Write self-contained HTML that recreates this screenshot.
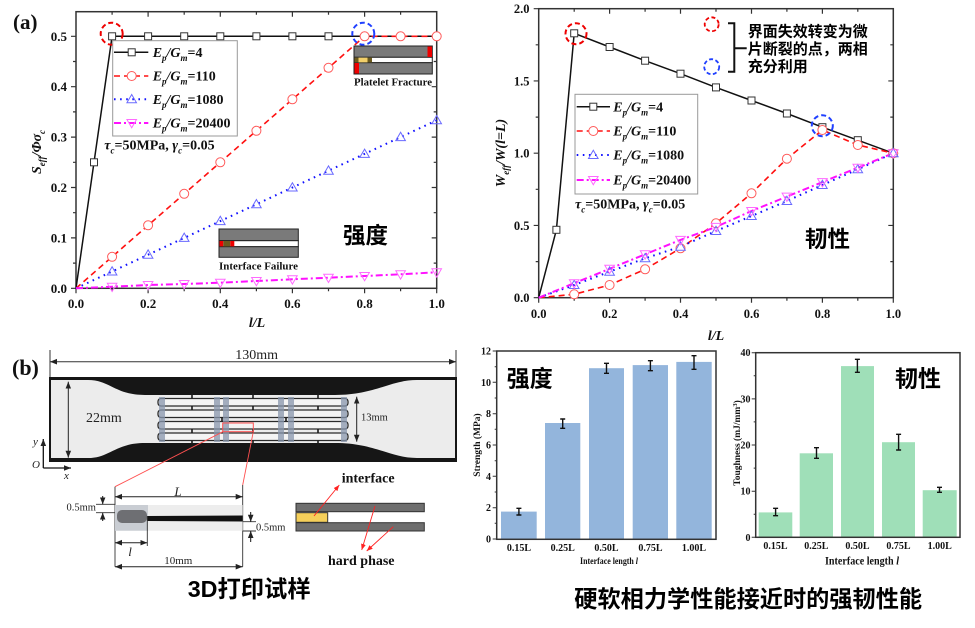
<!DOCTYPE html>
<html><head><meta charset="utf-8"><style>
html,body{margin:0;padding:0;background:#fff;}
svg{display:block;}
.n{font-family:"Liberation Serif",serif;font-weight:bold;fill:#111;}
.s{font-family:"Liberation Serif",serif;fill:#222;}
.cjk{font-family:"Liberation Sans","Noto Sans CJK SC",sans-serif;font-weight:bold;fill:#000;}
</style></head><body>
<svg width="975" height="628" viewBox="0 0 975 628" xmlns="http://www.w3.org/2000/svg">
<defs>
<g id="sq"><rect x="-3.5" y="-3.5" width="7" height="7" fill="#fff" stroke="#333" stroke-width="1"/></g>
<g id="ci"><circle r="4.5" fill="#fff" stroke="#ff5a5a" stroke-width="1"/></g>
<g id="tu"><polygon points="0,-4.8 4.8,3.5 -4.8,3.5" fill="none" stroke="#6a6aff" stroke-width="1"/></g>
<g id="td"><polygon points="0,4.8 4.8,-3.5 -4.8,-3.5" fill="none" stroke="#ff6aff" stroke-width="1"/></g>
<marker id="ah" viewBox="0 0 10 10" refX="10" refY="5" markerWidth="7" markerHeight="7" markerUnits="userSpaceOnUse" orient="auto-start-reverse"><path d="M0,1 L10,5 L0,9 z" fill="#222"/></marker>
<marker id="ar" viewBox="0 0 10 10" refX="10" refY="5" markerWidth="6" markerHeight="6" markerUnits="userSpaceOnUse" orient="auto"><path d="M0,1 L10,5 L0,9 z" fill="#f22"/></marker>
</defs>

<!-- ================= TOP LEFT CHART ================= -->
<text class="n" x="13" y="29" font-size="21">(a)</text>
<rect x="76" y="11.7" width="360.7" height="276.6" fill="none" stroke="#333" stroke-width="1.5"/>
<path stroke="#333" stroke-width="1.2" fill="none" d="M71,288.3H76M71,237.9H76M71,187.5H76M71,137.1H76M71,86.7H76M71,36.3H76M73,263.1H76M73,212.7H76M73,162.3H76M73,111.9H76M73,61.5H76
M431.7,237.9H436.7M431.7,187.5H436.7M431.7,137.1H436.7M431.7,86.7H436.7M431.7,36.3H436.7M433.7,263.1H436.7M433.7,212.7H436.7M433.7,162.3H436.7M433.7,111.9H436.7M433.7,61.5H436.7
M76,288.3V293.3M148.1,288.3V293.3M220.3,288.3V293.3M292.4,288.3V293.3M364.6,288.3V293.3M436.7,288.3V293.3M112.1,288.3V291.3M184.2,288.3V291.3M256.4,288.3V291.3M328.5,288.3V291.3M400.6,288.3V291.3
M148.1,11.7V16.7M220.3,11.7V16.7M292.4,11.7V16.7M364.6,11.7V16.7M112.1,11.7V14.7M184.2,11.7V14.7M256.4,11.7V14.7M328.5,11.7V14.7M400.6,11.7V14.7"/>
<g class="n" font-size="13" text-anchor="middle">
<text x="76" y="308">0.0</text><text x="148.1" y="308">0.2</text><text x="220.3" y="308">0.4</text><text x="292.4" y="308">0.6</text><text x="364.6" y="308">0.8</text><text x="436.7" y="308">1.0</text>
</g>
<g class="n" font-size="13" text-anchor="end">
<text x="67" y="292.8">0.0</text><text x="67" y="242.4">0.1</text><text x="67" y="192">0.2</text><text x="67" y="141.6">0.3</text><text x="67" y="91.2">0.4</text><text x="67" y="40.8">0.5</text>
</g>
<text class="n" font-size="14" font-style="italic" transform="translate(41,152) rotate(-90)" text-anchor="middle">S<tspan font-size="9" dy="4">eff</tspan><tspan dy="-4">/Φσ</tspan><tspan font-size="9" dy="4">c</tspan></text>
<text class="n" font-size="14" font-style="italic" x="257" y="327" text-anchor="middle">l/L</text>

<!-- insets -->
<g stroke="#222" stroke-width="1">
<rect x="354" y="46" width="78.3" height="11.3" fill="#7a7a7a"/>
<rect x="354" y="57.3" width="78.3" height="5.4" fill="#fff"/>
<rect x="354" y="62.7" width="78.3" height="11.3" fill="#7a7a7a"/>
<rect x="427.5" y="46.5" width="4.5" height="10.5" fill="#e00" stroke="none"/>
<rect x="354.5" y="63" width="4.5" height="10.5" fill="#e00" stroke="none"/>
<rect x="354.5" y="57.6" width="4" height="4.8" fill="#6b5a1e" stroke="none"/>
<rect x="358.5" y="57.6" width="9" height="4.8" fill="#f2cf6a" stroke="none"/>
<rect x="367.5" y="57.6" width="4.5" height="4.8" fill="#6b5a1e" stroke="none"/>
<rect x="219" y="229" width="79.3" height="11.7" fill="#7a7a7a"/>
<rect x="219" y="240.7" width="79.3" height="6" fill="#fff"/>
<rect x="219" y="246.7" width="79.3" height="10.6" fill="#7a7a7a"/>
<rect x="219.5" y="241" width="3.8" height="5.4" fill="#e00" stroke="none"/>
<rect x="223.3" y="241" width="7" height="5.4" fill="#6b5a1e" stroke="none"/>
<rect x="230.3" y="241" width="4" height="5.4" fill="#e00" stroke="none"/>
</g>
<text class="n" font-size="10.5" x="354" y="85.5" textLength="78" lengthAdjust="spacingAndGlyphs">Platelet Fracture</text>
<text class="n" font-size="10.5" x="219" y="269.5" textLength="79" lengthAdjust="spacingAndGlyphs">Interface Failure</text>
<text class="cjk" font-size="22.5" x="343" y="243.5">强度</text>

<!-- series -->
<path d="M76,288.3 L94,162.3 L112.1,36.3 L436.7,36.3" fill="none" stroke="#111" stroke-width="1.5"/>
<path d="M76,288.3 L364.6,36.3 L436.7,36.3" fill="none" stroke="#ff1010" stroke-width="1.6" stroke-dasharray="6 4"/>
<path d="M76,288.3 L436.7,120.3" fill="none" stroke="#1010ff" stroke-width="2" stroke-dasharray="1.6 4.5"/>
<path d="M76,288.3 L112.1,286.7 L148.1,285 L184.2,284 L220.3,282.7 L256.4,281 L292.4,279.3 L328.5,277.7 L364.6,276 L400.6,274.3 L436.7,272.3" fill="none" stroke="#ff10ff" stroke-width="2" stroke-dasharray="7 3 2 3"/>
<g>
<use href="#sq" x="94" y="162.3"/><use href="#sq" x="112.1" y="36.3"/><use href="#sq" x="148.1" y="36.3"/><use href="#sq" x="184.2" y="36.3"/><use href="#sq" x="220.3" y="36.3"/><use href="#sq" x="256.4" y="36.3"/><use href="#sq" x="292.4" y="36.3"/><use href="#sq" x="328.5" y="36.3"/>
<use href="#ci" x="112.1" y="256.8"/><use href="#ci" x="148.1" y="225.3"/><use href="#ci" x="184.2" y="193.8"/><use href="#ci" x="220.3" y="162.3"/><use href="#ci" x="256.4" y="130.8"/><use href="#ci" x="292.4" y="99.3"/><use href="#ci" x="328.5" y="67.8"/><use href="#ci" x="364.6" y="36.3"/><use href="#ci" x="400.6" y="36.3"/><use href="#ci" x="436.7" y="36.3"/>
<use href="#tu" x="112.1" y="271.5"/><use href="#tu" x="148.1" y="254.7"/><use href="#tu" x="184.2" y="237.9"/><use href="#tu" x="220.3" y="221.1"/><use href="#tu" x="256.4" y="204.3"/><use href="#tu" x="292.4" y="187.5"/><use href="#tu" x="328.5" y="170.7"/><use href="#tu" x="364.6" y="153.9"/><use href="#tu" x="400.6" y="137.1"/><use href="#tu" x="436.7" y="120.3"/>
<use href="#td" x="112.1" y="286.7"/><use href="#td" x="148.1" y="285"/><use href="#td" x="184.2" y="284"/><use href="#td" x="220.3" y="282.7"/><use href="#td" x="256.4" y="281"/><use href="#td" x="292.4" y="279.3"/><use href="#td" x="328.5" y="277.7"/><use href="#td" x="364.6" y="276"/><use href="#td" x="400.6" y="274.3"/><use href="#td" x="436.7" y="272.3"/>
</g>
<circle cx="111.7" cy="33.7" r="11" fill="none" stroke="#e00" stroke-width="2" stroke-dasharray="5 3"/>
<circle cx="363.3" cy="33.7" r="11" fill="none" stroke="#2040ff" stroke-width="2" stroke-dasharray="5 3"/>

<!-- legend left -->
<rect x="112.7" y="40.7" width="124.6" height="95.3" fill="#fff" stroke="#999" stroke-width="1"/>
<line x1="114" y1="52.3" x2="148.3" y2="52.3" stroke="#111" stroke-width="1.5"/><use href="#sq" x="131.7" y="52.3"/>
<line x1="114" y1="76" x2="148.3" y2="76" stroke="#ff1010" stroke-width="1.6" stroke-dasharray="6 4"/><use href="#ci" x="131.7" y="76"/>
<line x1="114" y1="99.3" x2="148.3" y2="99.3" stroke="#1010ff" stroke-width="2" stroke-dasharray="1.6 4.5"/><use href="#tu" x="131.7" y="99.3"/>
<line x1="114" y1="123" x2="148.3" y2="123" stroke="#ff10ff" stroke-width="2" stroke-dasharray="7 3 2 3"/><use href="#td" x="131.7" y="123"/>
<g class="n" font-size="14" font-style="italic">
<text x="152.7" y="57">E<tspan font-size="9" dy="4">p</tspan><tspan dy="-4">/G</tspan><tspan font-size="9" dy="4">m</tspan><tspan dy="-4" font-style="normal">=4</tspan></text>
<text x="152.7" y="80.7">E<tspan font-size="9" dy="4">p</tspan><tspan dy="-4">/G</tspan><tspan font-size="9" dy="4">m</tspan><tspan dy="-4" font-style="normal">=110</tspan></text>
<text x="152.7" y="104">E<tspan font-size="9" dy="4">p</tspan><tspan dy="-4">/G</tspan><tspan font-size="9" dy="4">m</tspan><tspan dy="-4" font-style="normal">=1080</tspan></text>
<text x="152.7" y="127.7">E<tspan font-size="9" dy="4">p</tspan><tspan dy="-4">/G</tspan><tspan font-size="9" dy="4">m</tspan><tspan dy="-4" font-style="normal">=20400</tspan></text>
<text x="104.3" y="149.5">τ<tspan font-size="9" dy="4">c</tspan><tspan dy="-4" font-style="normal">=50MPa, </tspan>γ<tspan font-size="9" dy="4">c</tspan><tspan dy="-4" font-style="normal">=0.05</tspan></text>
</g>

<!-- ================= TOP RIGHT CHART ================= -->
<rect x="538.7" y="8.7" width="354.6" height="289" fill="none" stroke="#333" stroke-width="1.5"/>
<path stroke="#333" stroke-width="1.2" fill="none" d="M533.7,297.7H538.7M533.7,225.45H538.7M533.7,153.2H538.7M533.7,80.95H538.7M533.7,8.7H538.7M535.7,261.6H538.7M535.7,189.3H538.7M535.7,117.1H538.7M535.7,44.8H538.7
M888.3,225.45H893.3M888.3,153.2H893.3M888.3,80.95H893.3M890.3,261.6H893.3M890.3,189.3H893.3M890.3,117.1H893.3M890.3,44.8H893.3
M538.7,297.7V302.7M609.6,297.7V302.7M680.5,297.7V302.7M751.5,297.7V302.7M822.4,297.7V302.7M893.3,297.7V302.7M574.2,297.7V300.7M645.1,297.7V300.7M716,297.7V300.7M786.9,297.7V300.7M857.8,297.7V300.7
M609.6,8.7V13.7M680.5,8.7V13.7M751.5,8.7V13.7M822.4,8.7V13.7M574.2,8.7V11.7M645.1,8.7V11.7M716,8.7V11.7M786.9,8.7V11.7M857.8,8.7V11.7"/>
<g class="n" font-size="12.5" text-anchor="middle">
<text x="538.7" y="318">0.0</text><text x="609.6" y="318">0.2</text><text x="680.5" y="318">0.4</text><text x="751.5" y="318">0.6</text><text x="822.4" y="318">0.8</text><text x="893.3" y="318">1.0</text>
</g>
<g class="n" font-size="12.5" text-anchor="end">
<text x="529.5" y="302.2">0.0</text><text x="529.5" y="230">0.5</text><text x="529.5" y="157.7">1.0</text><text x="529.5" y="85.5">1.5</text><text x="529.5" y="13.2">2.0</text>
</g>
<text class="n" font-size="14" font-style="italic" transform="translate(505,153) rotate(-90)" text-anchor="middle">W<tspan font-size="9" dy="4">eff</tspan><tspan dy="-4">/W(l=L)</tspan></text>
<text class="n" font-size="14" font-style="italic" x="716" y="340" text-anchor="middle">l/L</text>

<path d="M538.7,297.7 L556.4,229.8 L574.2,33.3 L609.6,47 L645.1,60.7 L680.5,73.7 L716,87.4 L751.5,100.5 L786.9,113.5 L822.4,127.2 L857.8,140.2 L893.3,153.2" fill="none" stroke="#111" stroke-width="1.5"/>
<path d="M538.7,297.7 L574.2,294.3 L609.6,285 L645.1,269.3 L680.5,248.3 L716,223.3 L751.5,193.3 L786.9,158.7 L822.4,130 L857.8,145 L893.3,153.2" fill="none" stroke="#ff1010" stroke-width="1.6" stroke-dasharray="6 4"/>
<path d="M538.7,297.7 L574.2,285 L609.6,271.7 L645.1,258.3 L680.5,246.7 L716,231 L751.5,216 L786.9,201 L822.4,185 L857.8,169.3 L893.3,153.2" fill="none" stroke="#1010ff" stroke-width="2" stroke-dasharray="1.6 4.5"/>
<path d="M538.7,297.7 L574.2,283.2 L609.6,268.8 L645.1,254.3 L680.5,239.9 L716,226.9 L751.5,211 L786.9,196.6 L822.4,182.1 L857.8,167.7 L893.3,153.2" fill="none" stroke="#ff10ff" stroke-width="2" stroke-dasharray="7 3 2 3"/>
<g>
<use href="#sq" x="556.4" y="229.8"/><use href="#sq" x="574.2" y="33.3"/><use href="#sq" x="609.6" y="47"/><use href="#sq" x="645.1" y="60.7"/><use href="#sq" x="680.5" y="73.7"/><use href="#sq" x="716" y="87.4"/><use href="#sq" x="751.5" y="100.5"/><use href="#sq" x="786.9" y="113.5"/><use href="#sq" x="822.4" y="127.2"/><use href="#sq" x="857.8" y="140.2"/><use href="#sq" x="893.3" y="153.2"/>
<use href="#ci" x="574.2" y="294.3"/><use href="#ci" x="609.6" y="285"/><use href="#ci" x="645.1" y="269.3"/><use href="#ci" x="680.5" y="248.3"/><use href="#ci" x="716" y="223.3"/><use href="#ci" x="751.5" y="193.3"/><use href="#ci" x="786.9" y="158.7"/><use href="#ci" x="822.4" y="130"/><use href="#ci" x="857.8" y="145"/><use href="#ci" x="893.3" y="153.2"/>
<use href="#tu" x="574.2" y="285"/><use href="#tu" x="609.6" y="271.7"/><use href="#tu" x="645.1" y="258.3"/><use href="#tu" x="680.5" y="246.7"/><use href="#tu" x="716" y="231"/><use href="#tu" x="751.5" y="216"/><use href="#tu" x="786.9" y="201"/><use href="#tu" x="822.4" y="185"/><use href="#tu" x="857.8" y="169.3"/><use href="#tu" x="893.3" y="153.2"/>
<use href="#td" x="574.2" y="283.2"/><use href="#td" x="609.6" y="268.8"/><use href="#td" x="645.1" y="254.3"/><use href="#td" x="680.5" y="239.9"/><use href="#td" x="716" y="226.9"/><use href="#td" x="751.5" y="211"/><use href="#td" x="786.9" y="196.6"/><use href="#td" x="822.4" y="182.1"/><use href="#td" x="857.8" y="167.7"/><use href="#td" x="893.3" y="153.2"/>
</g>
<circle cx="576" cy="33.7" r="10.5" fill="none" stroke="#e00" stroke-width="2" stroke-dasharray="5 3"/>
<circle cx="822.3" cy="125.7" r="10.5" fill="none" stroke="#2040ff" stroke-width="2" stroke-dasharray="5 3"/>
<circle cx="711.7" cy="24.3" r="7" fill="none" stroke="#e00" stroke-width="1.8" stroke-dasharray="4 2.5"/>
<circle cx="711.7" cy="66.7" r="7.5" fill="none" stroke="#2040ff" stroke-width="1.8" stroke-dasharray="4 2.5"/>
<path d="M728,23.3 H734.3 V71.7 H728 M734.3,48.3 H746.7" fill="none" stroke="#111" stroke-width="2"/>
<g class="cjk" font-size="15">
<text x="747.7" y="36.7">界面失效转变为微</text>
<text x="747.7" y="54">片断裂的点，两相</text>
<text x="747.7" y="71.4">充分利用</text>
</g>
<text class="cjk" font-size="22.5" x="805" y="246.8">韧性</text>

<!-- legend right -->
<rect x="575" y="94.3" width="122.7" height="99.7" fill="#fff" stroke="#999" stroke-width="1"/>
<line x1="576.7" y1="106.7" x2="610" y2="106.7" stroke="#111" stroke-width="1.5"/><use href="#sq" x="593.3" y="106.7"/>
<line x1="576.7" y1="131" x2="610" y2="131" stroke="#ff1010" stroke-width="1.6" stroke-dasharray="6 4"/><use href="#ci" x="593.3" y="131"/>
<line x1="576.7" y1="155" x2="610" y2="155" stroke="#1010ff" stroke-width="2" stroke-dasharray="1.6 4.5"/><use href="#tu" x="593.3" y="155"/>
<line x1="576.7" y1="180" x2="610" y2="180" stroke="#ff10ff" stroke-width="2" stroke-dasharray="7 3 2 3"/><use href="#td" x="593.3" y="180"/>
<g class="n" font-size="14" font-style="italic">
<text x="613.3" y="111.4">E<tspan font-size="9" dy="4">p</tspan><tspan dy="-4">/G</tspan><tspan font-size="9" dy="4">m</tspan><tspan dy="-4" font-style="normal">=4</tspan></text>
<text x="613.3" y="135.7">E<tspan font-size="9" dy="4">p</tspan><tspan dy="-4">/G</tspan><tspan font-size="9" dy="4">m</tspan><tspan dy="-4" font-style="normal">=110</tspan></text>
<text x="613.3" y="159.7">E<tspan font-size="9" dy="4">p</tspan><tspan dy="-4">/G</tspan><tspan font-size="9" dy="4">m</tspan><tspan dy="-4" font-style="normal">=1080</tspan></text>
<text x="613.3" y="184.7">E<tspan font-size="9" dy="4">p</tspan><tspan dy="-4">/G</tspan><tspan font-size="9" dy="4">m</tspan><tspan dy="-4" font-style="normal">=20400</tspan></text>
<text x="575" y="208.5">τ<tspan font-size="9" dy="4">c</tspan><tspan dy="-4" font-style="normal">=50MPa, </tspan>γ<tspan font-size="9" dy="4">c</tspan><tspan dy="-4" font-style="normal">=0.05</tspan></text>
</g>

<!-- ================= BOTTOM LEFT SPECIMEN ================= -->
<text class="n" x="12" y="375" font-size="22">(b)</text>
<line x1="50" y1="350" x2="50" y2="377" stroke="#333" stroke-width="1"/>
<line x1="456" y1="350" x2="456" y2="377" stroke="#333" stroke-width="1"/>
<line x1="50" y1="361.7" x2="456" y2="361.7" stroke="#333" stroke-width="1" marker-start="url(#ah)" marker-end="url(#ah)"/>
<text class="s" x="256.7" y="359" font-size="14" text-anchor="middle">130mm</text>

<rect x="49" y="377" width="408" height="85" fill="#161616"/>
<path d="M51,380 L88,380 C110,380 115,395 145,395 L335,395 C375,395 390,380 417,380 L455,380 L455,458 L417,458 C390,458 375,443 335,443 L145,443 C115,443 110,458 88,458 L51,458 Z" fill="#ececec"/>
<!-- lattice -->
<g fill="#f4f4f4" stroke="#2a2a2a" stroke-width="1.3">
<rect x="158" y="398.5" width="190" height="7.5" rx="3"/>
<rect x="158" y="410" width="190" height="7.5" rx="3"/>
<rect x="158" y="421.5" width="190" height="7.5" rx="3"/>
<rect x="158" y="433" width="190" height="7.5" rx="3"/>
</g>
<path stroke="#1a1a1a" stroke-width="1.6" d="M192,393V398.5M253,393V398.5M318,393V398.5M192,440.5V446M253,440.5V446M318,440.5V446M192,406V410M253,406V410M318,406V410M192,429V433M253,429V433M318,429V433M222,417.5V421.5M286,417.5V421.5"/>
<g fill="#8896ad" opacity="0.75">
<rect x="159" y="397" width="6" height="45"/><rect x="214" y="397" width="6" height="45"/><rect x="223" y="397" width="6" height="45"/>
<rect x="278" y="397" width="6" height="45"/><rect x="288" y="397" width="6" height="45"/><rect x="341" y="397" width="6" height="45"/>
</g>
<rect x="222.7" y="423" width="30.6" height="8.7" fill="none" stroke="#ff5050" stroke-width="1"/>
<line x1="223" y1="431.7" x2="115" y2="486.7" stroke="#ff5050" stroke-width="0.9"/>
<line x1="253.3" y1="431.7" x2="242.7" y2="485" stroke="#ff5050" stroke-width="0.9"/>
<line x1="68.3" y1="381.7" x2="68.3" y2="457.7" stroke="#222" stroke-width="1" marker-start="url(#ah)" marker-end="url(#ah)"/>
<text class="s" x="86" y="422" font-size="14">22mm</text>
<line x1="356.7" y1="396.7" x2="356.7" y2="441.7" stroke="#222" stroke-width="1" marker-start="url(#ah)" marker-end="url(#ah)"/>
<text class="s" x="361" y="420.7" font-size="10.5">13mm</text>
<!-- axes indicator -->
<line x1="43.3" y1="468" x2="43.3" y2="439" stroke="#111" stroke-width="1.3" marker-end="url(#ah)"/>
<line x1="43.3" y1="468" x2="71" y2="468" stroke="#111" stroke-width="1.3" marker-end="url(#ah)"/>
<text class="s" x="33" y="445" font-size="11" font-style="italic">y</text>
<text class="s" x="32" y="468" font-size="11" font-style="italic">O</text>
<text class="s" x="64" y="479" font-size="11" font-style="italic">x</text>

<!-- zoomed strip -->
<line x1="115" y1="486.7" x2="115" y2="566.7" stroke="#333" stroke-width="0.9"/>
<line x1="242.7" y1="485" x2="242.7" y2="566.7" stroke="#333" stroke-width="0.9"/>
<line x1="115" y1="496.7" x2="242.7" y2="496.7" stroke="#222" stroke-width="1" marker-start="url(#ah)" marker-end="url(#ah)"/>
<text class="s" x="178" y="496" font-size="13" font-style="italic" text-anchor="middle">L</text>
<rect x="115" y="505" width="127.7" height="25.7" fill="#ededed"/>
<rect x="115" y="505" width="33" height="25.7" fill="#c9cdd3"/>
<rect x="117" y="510" width="30" height="13" rx="5" fill="#5e5e62" opacity="0.85"/>
<path d="M147,516 L242.7,515.5 L242.7,521.5 L147,521 Z" fill="#111"/>
<path d="M96,504.3H115M96,512.7H115" stroke="#333" stroke-width="0.9"/>
<line x1="102.7" y1="496" x2="102.7" y2="504.3" stroke="#111" stroke-width="1" marker-end="url(#ah)"/>
<line x1="102.7" y1="521" x2="102.7" y2="512.7" stroke="#111" stroke-width="1" marker-end="url(#ah)"/>
<text class="s" x="66.5" y="510.5" font-size="10.5">0.5mm</text>
<path d="M242.7,521.7H256M242.7,531H256" stroke="#333" stroke-width="0.9"/>
<line x1="250.7" y1="512" x2="250.7" y2="521.7" stroke="#111" stroke-width="1" marker-end="url(#ah)"/>
<line x1="250.7" y1="542" x2="250.7" y2="531" stroke="#111" stroke-width="1" marker-end="url(#ah)"/>
<text class="s" x="256" y="530.5" font-size="10.5">0.5mm</text>
<line x1="147.3" y1="516" x2="147.3" y2="546" stroke="#333" stroke-width="0.9"/>
<line x1="115" y1="542.7" x2="147.3" y2="542.7" stroke="#222" stroke-width="1" marker-start="url(#ah)" marker-end="url(#ah)"/>
<text class="s" x="130" y="556" font-size="13" font-style="italic" text-anchor="middle">l</text>
<line x1="115" y1="566.7" x2="242.7" y2="566.7" stroke="#222" stroke-width="1" marker-start="url(#ah)" marker-end="url(#ah)"/>
<text class="s" x="178.3" y="564" font-size="11" text-anchor="middle">10mm</text>

<!-- schematic -->
<rect x="296" y="503.3" width="128.3" height="8.4" fill="#6e6e6e" stroke="#333" stroke-width="1"/>
<rect x="296" y="522.7" width="128.3" height="8.3" fill="#6e6e6e" stroke="#333" stroke-width="1"/>
<rect x="296" y="512.7" width="31.7" height="9.6" fill="#f5cf5a" stroke="#333" stroke-width="1"/>
<text class="n" x="341.7" y="482.5" font-size="14">interface</text>
<text class="n" x="328" y="565" font-size="14">hard phase</text>
<line x1="314" y1="516" x2="339.3" y2="485" stroke="#f22" stroke-width="0.9" marker-end="url(#ar)"/>
<line x1="375" y1="506" x2="361.7" y2="550" stroke="#f22" stroke-width="0.9" marker-end="url(#ar)"/>
<line x1="393.3" y1="526.7" x2="366.7" y2="551" stroke="#f22" stroke-width="0.9" marker-end="url(#ar)"/>

<text class="cjk" x="187.7" y="597" font-size="23.3">3D打印试样</text>

<!-- ================= BAR CHART 1 ================= -->
<g fill="#93b5dc">
<rect x="501" y="511.6" width="35.7" height="27.4"/>
<rect x="545" y="423" width="35.3" height="116"/>
<rect x="589" y="368.2" width="35" height="170.8"/>
<rect x="632.7" y="365.1" width="35.3" height="173.9"/>
<rect x="676.3" y="361.9" width="35.4" height="177.1"/>
</g>
<path stroke="#111" stroke-width="1.4" fill="none" d="M518.9,508.3V515M516.4,508.3H521.4M516.4,515H521.4
M562.7,419V428.3M560.2,419H565.2M560.2,428.3H565.2
M606.5,363.3V373.3M604,363.3H609M604,373.3H609
M650.4,360.7V370.7M647.9,360.7H652.9M647.9,370.7H652.9
M694,355.7V369.3M691.5,355.7H696.5M691.5,369.3H696.5"/>
<rect x="496.7" y="351" width="219.3" height="188.3" fill="none" stroke="#333" stroke-width="1.5"/>
<path stroke="#333" stroke-width="1" d="M492.7,539H496.7M492.7,507.7H496.7M492.7,476.3H496.7M492.7,445H496.7M492.7,413.7H496.7M492.7,382.3H496.7M492.7,351H496.7M494.7,523.3H496.7M494.7,492H496.7M494.7,460.7H496.7M494.7,429.3H496.7M494.7,398H496.7M494.7,366.7H496.7"/>
<g class="n" font-size="10" text-anchor="end">
<text x="491" y="542.5">0</text><text x="491" y="511.2">2</text><text x="491" y="479.8">4</text><text x="491" y="448.5">6</text><text x="491" y="417.2">8</text><text x="491" y="385.8">10</text><text x="491" y="354.5">12</text>
</g>
<g class="n" font-size="10" text-anchor="middle">
<text x="518.9" y="551">0.15L</text><text x="562.7" y="551">0.25L</text><text x="606.5" y="551">0.50L</text><text x="650.4" y="551">0.75L</text><text x="694" y="551">1.00L</text>
</g>
<text class="n" font-size="9" x="580" y="564" textLength="58" lengthAdjust="spacingAndGlyphs">Interface length <tspan font-style="italic">l</tspan></text>
<text class="n" font-size="9.5" transform="translate(480,445) rotate(-90)" text-anchor="middle">Strength (MPa)</text>
<text class="cjk" font-size="23" x="506.7" y="386.7">强度</text>

<!-- ================= BAR CHART 2 ================= -->
<g fill="#9fdfb8">
<rect x="758.7" y="512.4" width="33.6" height="24.9"/>
<rect x="799.7" y="453.3" width="33.3" height="84"/>
<rect x="841" y="366.1" width="33" height="171.2"/>
<rect x="882" y="442.2" width="33" height="95.1"/>
<rect x="922.7" y="490.2" width="34" height="47.1"/>
</g>
<path stroke="#111" stroke-width="1.4" fill="none" d="M775.6,508.3V515.7M773.1,508.3H778.1M773.1,515.7H778.1
M816.5,447.7V458.3M814,447.7H819M814,458.3H819
M857.4,359.3V372.3M854.9,359.3H859.9M854.9,372.3H859.9
M898.6,434.3V450M896.1,434.3H901.1M896.1,450H901.1
M939.5,487.3V492.3M937,487.3H942M937,492.3H942"/>
<rect x="755.7" y="352.7" width="204.3" height="184.6" fill="none" stroke="#333" stroke-width="1.5"/>
<path stroke="#333" stroke-width="1" d="M751.7,537.3H755.7M751.7,491.2H755.7M751.7,445H755.7M751.7,398.9H755.7M751.7,352.7H755.7M753.7,514.2H755.7M753.7,468.1H755.7M753.7,421.9H755.7M753.7,375.8H755.7"/>
<g class="n" font-size="10" text-anchor="end">
<text x="750.5" y="540.8">0</text><text x="750.5" y="494.7">10</text><text x="750.5" y="448.5">20</text><text x="750.5" y="402.4">30</text><text x="750.5" y="356.2">40</text>
</g>
<g class="n" font-size="10" text-anchor="middle">
<text x="775.5" y="549">0.15L</text><text x="816.3" y="549">0.25L</text><text x="857.5" y="549">0.50L</text><text x="898.5" y="549">0.75L</text><text x="939.7" y="549">1.00L</text>
</g>
<text class="n" font-size="12" x="825" y="564.5" textLength="74" lengthAdjust="spacingAndGlyphs">Interface length <tspan font-style="italic">l</tspan></text>
<text class="n" font-size="9.5" transform="translate(740,443) rotate(-90)" text-anchor="middle">Toughness (mJ/mm<tspan font-size="6.5" dy="-3">3</tspan><tspan dy="3">)</tspan></text>
<text class="cjk" font-size="23" x="895" y="386.7">韧性</text>

<text class="cjk" x="574.3" y="607" font-size="23.2">硬软相力学性能接近时的强韧性能</text>
</svg>
</body></html>
